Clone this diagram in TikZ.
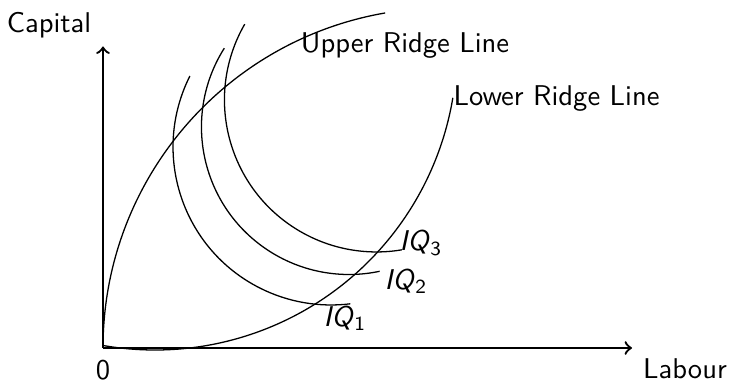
\documentclass[tikz,border=0pt]{standalone}
\begin{document}
\begin{tikzpicture}[x=0.35pt,y=0.35pt,font=\sffamily,
  axis/.style={line width=0.8pt,->},
  curve/.style={line width=0.45pt},
  lbl/.style={inner sep=0pt}]
\useasboundingbox (0,0) rectangle (729,382);
\coordinate (O) at (103,34);
\coordinate (ytop) at (103,335.5);
\coordinate (xend) at (632,34);
\draw[axis] (O) -- (ytop);
\draw[axis] (O) -- (xend);
% ridge lines
\draw[curve] (O) arc[start angle=180,end angle=99.8,radius=340];
\draw[curve] (103.6,36.4) coordinate (lrs) arc[start angle=260.2,end angle=350.5,radius=302] coordinate (lre);
% isoquants
\draw[curve] (189.9,306) arc[start angle=153.3,end angle=277,radius=158];
\draw[curve] (224.3,333.8) arc[start angle=147.7,end angle=282,radius=147.5];
\draw[curve] (244.7,357.8) arc[start angle=150.1,end angle=279.6,radius=152];
% labels
\node[lbl] (cap) at (49,356.5) {Capital};
\node[lbl] (lab) at (685,13) {Labour};
\node[lbl] (zero) at (103,12) {0};
\node[lbl] (url) at (405,336) {Upper Ridge Line};
\node[lbl] (lrl) at (556.5,283) {Lower Ridge Line};
\node[lbl] (iq1) at (345,64) {\textit{IQ}\textsubscript{1}};
\node[lbl] (iq2) at (406,101) {\textit{IQ}\textsubscript{2}};
\node[lbl] (iq3) at (421,139) {\textit{IQ}\textsubscript{3}};
\end{tikzpicture}
\end{document}
